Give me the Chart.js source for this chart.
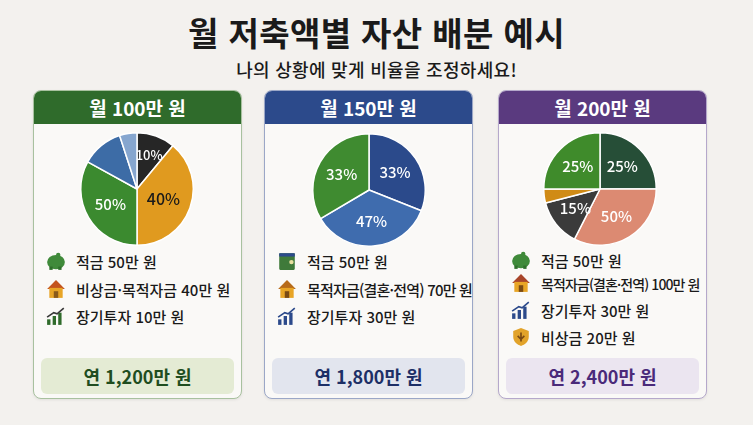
<!DOCTYPE html>
<html lang="ko">
<head>
<meta charset="utf-8">
<script src="https://cdn.jsdelivr.net/npm/chart.js@4.4.1/dist/chart.umd.min.js"></script>
<style>
  html, body { margin: 0; padding: 0; }
  body {
    width: 753px; height: 425px; overflow: hidden; position: relative;
    background: #f3f1ee;
    font-family: "Noto Sans CJK KR", "Noto Sans", sans-serif;
    color: #1a1a1a;
  }
  .title {
    position: absolute; left: 0; width: 753px; top: 12px; text-align: center;
    font-size: 33px; font-weight: 700; line-height: 40px; letter-spacing: 0.4px;
  }
  .subtitle {
    position: absolute; left: 0; width: 753px; top: 57px; text-align: center;
    font-size: 18px; font-weight: 500; line-height: 24px; letter-spacing: 0.3px;
  }
  .card {
    position: absolute; top: 90px; height: 309px; width: 209px;
    background: #faf9f7; border: 1.5px solid; border-radius: 8px;
    box-sizing: border-box; overflow: hidden;
    box-shadow: 0 1px 3px rgba(0,0,0,0.08);
  }
  .card .head {
    height: 33px; line-height: 33px; text-align: center; color: #fff;
    font-size: 19px; font-weight: 700;
  }
  .card canvas { position: absolute; }
  .row {
    position: absolute; left: 11px; height: 22px; line-height: 22px;
    font-size: 15px; font-weight: 500; white-space: nowrap;
  }
  .row svg { position: absolute; left: 1px; top: 0px; }
  .row span { position: absolute; left: 31px; }
  .foot {
    position: absolute; left: 7px; right: 7px; top: 267px; height: 36px;
    border-radius: 6px; text-align: center; line-height: 36px;
    font-size: 18px; font-weight: 700;
  }
</style>
</head>
<body>
<div class="title">월 저축액별 자산 배분 예시</div>
<div class="subtitle">나의 상황에 맞게 비율을 조정하세요!</div>

<div class="card" id="card1" style="left:33px; border-color:#a8c19f;">
  <div class="head" style="background:#2f6b2b;">월 100만 원</div>
  <canvas id="pie1" width="116" height="116" style="left:45px; top:40px;"></canvas>
  <div class="row" style="top:160px;">
    <svg width="20" height="20" viewBox="0 0 18 18"><ellipse cx="9" cy="10" rx="8" ry="6.5" fill="#3f8a3a"/><circle cx="11" cy="3.5" r="2" fill="#3f8a3a"/><rect x="3" y="14" width="3" height="3" fill="#2f6f2c"/><rect x="11" y="14" width="3" height="3" fill="#2f6f2c"/></svg>
    <span>적금 50만 원</span>
  </div>
  <div class="row" style="top:188px;">
    <svg width="20" height="20" viewBox="0 0 18 18"><path d="M1 9 L9 1 L17 9 Z" fill="#c4541e"/><rect x="3" y="8" width="12" height="9" fill="#e8a526"/><rect x="7" y="11" width="4" height="6" fill="#8a5a1a"/></svg>
    <span>비상금·목적자금 40만 원</span>
  </div>
  <div class="row" style="top:215px;">
    <svg width="20" height="20" viewBox="0 0 18 18"><rect x="1" y="12" width="3" height="5" fill="#2f6b2b"/><rect x="6" y="9" width="3" height="8" fill="#2f6b2b"/><rect x="11" y="6" width="3" height="11" fill="#2f6b2b"/><path d="M1 10 L7 6 L10 7 L16 2" stroke="#3a3a3a" stroke-width="1.5" fill="none"/></svg>
    <span>장기투자 10만 원</span>
  </div>
  <div class="foot" style="background:#e4ebd4; color:#1f4d1f;">연 1,200만 원</div>
</div>

<div class="card" id="card2" style="left:264px; border-color:#9ba7c7;">
  <div class="head" style="background:#2c4a8b;">월 150만 원</div>
  <canvas id="pie2" width="116" height="116" style="left:46px; top:41px;"></canvas>
  <div class="row" style="top:160px;">
    <svg width="20" height="20" viewBox="0 0 18 18"><rect x="2" y="2" width="14" height="15" rx="1" fill="#3f7a3a"/><rect x="2" y="2" width="14" height="3" fill="#2c4a8b"/><circle cx="13" cy="10" r="2" fill="#e8e0a0"/></svg>
    <span>적금 50만 원</span>
  </div>
  <div class="row" style="top:188px;">
    <svg width="20" height="20" viewBox="0 0 18 18"><path d="M1 9 L9 1 L17 9 Z" fill="#b76b1a"/><rect x="3" y="8" width="12" height="9" fill="#e8a526"/><rect x="7" y="11" width="4" height="6" fill="#7a4a14"/></svg>
    <span style="letter-spacing:-0.8px;">목적자금(결혼·전역) 70만 원</span>
  </div>
  <div class="row" style="top:215px;">
    <svg width="20" height="20" viewBox="0 0 18 18"><rect x="1" y="12" width="3" height="5" fill="#2c4a8b"/><rect x="6" y="9" width="3" height="8" fill="#2c4a8b"/><rect x="11" y="6" width="3" height="11" fill="#2c4a8b"/><path d="M1 10 L7 6 L10 7 L16 2" stroke="#2c4a8b" stroke-width="1.5" fill="none"/></svg>
    <span>장기투자 30만 원</span>
  </div>
  <div class="foot" style="background:#e2e5ee; color:#1d2f66;">연 1,800만 원</div>
</div>

<div class="card" id="card3" style="left:498px; border-color:#b5a8cb;">
  <div class="head" style="background:#5a3a7f;">월 200만 원</div>
  <canvas id="pie3" width="118" height="116" style="left:42px; top:40px;"></canvas>
  <div class="row" style="top:159px;">
    <svg width="20" height="20" viewBox="0 0 18 18"><ellipse cx="9" cy="10" rx="8" ry="6.5" fill="#3f8a3a"/><circle cx="11" cy="3.5" r="2" fill="#3f8a3a"/><rect x="3" y="14" width="3" height="3" fill="#2f6f2c"/><rect x="11" y="14" width="3" height="3" fill="#2f6f2c"/></svg>
    <span>적금 50만 원</span>
  </div>
  <div class="row" style="top:182px;">
    <svg width="20" height="20" viewBox="0 0 18 18"><path d="M1 9 L9 1 L17 9 Z" fill="#a8452a"/><rect x="3" y="8" width="12" height="9" fill="#e8a526"/><rect x="7" y="11" width="4" height="6" fill="#7a4a14"/></svg>
    <span style="font-size:14px; letter-spacing:-0.9px;">목적자금(결혼·전역) 100만 원</span>
  </div>
  <div class="row" style="top:209px;">
    <svg width="20" height="20" viewBox="0 0 18 18"><rect x="1" y="12" width="3" height="5" fill="#2c4a8b"/><rect x="6" y="9" width="3" height="8" fill="#2c4a8b"/><rect x="11" y="6" width="3" height="11" fill="#2c4a8b"/><path d="M1 10 L7 6 L10 7 L16 2" stroke="#2c4a8b" stroke-width="1.5" fill="none"/></svg>
    <span>장기투자 30만 원</span>
  </div>
  <div class="row" style="top:236px;">
    <svg width="20" height="20" viewBox="0 0 18 18"><path d="M9 1 L16 3.5 L16 9 C16 13 12.5 16 9 17 C5.5 16 2 13 2 9 L2 3.5 Z" fill="#e2a32a"/><path d="M9 5 L9 13 M6 8 L9 11 L12 8" stroke="#7a4a14" stroke-width="1.5" fill="none"/></svg>
    <span>비상금 20만 원</span>
  </div>
  <div class="foot" style="background:#ebe5f0; color:#4a2a7a;">연 2,400만 원</div>
</div>

<script>
// 슬라이스 크기는 그림에 그려진 각도대로, 글자는 그림에 적힌 대로
const pie1Slices = ['장기투자', '비상금·목적자금', '적금', '기타', '기타2'];
const pie1Values = [11, 39, 33, 12, 5];
const pie1Text = ['10%', '40%', '50%', '', ''];
const pie1Colors = ['#262626', '#e09a1f', '#3b8a2f', '#3d6ca6', '#86a6cf'];

const pie2Slices = ['장기투자', '목적자금', '적금'];
const pie2Values = [31, 35.5, 33.5];
const pie2Text = ['33%', '47%', '33%'];
const pie2Colors = ['#2b4a8b', '#3f6cae', '#3f8b30'];

const pie3Slices = ['장기투자', '목적자금', '비상금', '기타', '적금'];
const pie3Values = [25, 32.5, 13.5, 4, 25];
const pie3Text = ['25%', '50%', '15%', '', '25%'];
const pie3Colors = ['#264e37', '#dc8a72', '#3b3b3b', '#d08b16', '#3f8b2b'];

// 조각 위에 퍼센트 글자를 찍는 플러그인
const sliceText = {
    id: 'sliceText',
    afterDatasetsDraw(chart, args, opts) {
        const ctx = chart.ctx;
        const meta = chart.getDatasetMeta(0);
        meta.data.forEach((arc, i) => {
            const txt = opts.texts[i];
            if (!txt) return;
            const mid = (arc.startAngle + arc.endAngle) / 2;
            const r = arc.outerRadius * (opts.dist ? opts.dist[i] : 0.56);
            const x = arc.x + Math.cos(mid) * r;
            const y = arc.y + Math.sin(mid) * r;
            ctx.save();
            ctx.font = '500 ' + (opts.sizes ? opts.sizes[i] : 15) + 'px "Noto Sans CJK KR", "Noto Sans", sans-serif';
            ctx.fillStyle = opts.textColors[i] || '#fff';
            ctx.textAlign = 'center';
            ctx.textBaseline = 'middle';
            ctx.fillText(txt, x, y);
            ctx.restore();
        });
    }
};

function makePie(id, labels, values, colors, texts, style) {
    const ctx = document.getElementById(id).getContext('2d');
    return new Chart(ctx, {
        type: 'pie',
        data: {
            labels: labels,
            datasets: [{
                data: values,
                backgroundColor: colors,
                borderColor: '#ffffff',
                borderWidth: 1.5
            }]
        },
        options: {
            responsive: false,
            animation: false,
            layout: { padding: 1 },
            plugins: {
                legend: { display: false },
                tooltip: { enabled: false },
                sliceText: Object.assign({ texts: texts }, style)
            }
        },
        plugins: [sliceText]
    });
}

makePie('pie1', pie1Slices, pie1Values, pie1Colors, pie1Text, {
    textColors: ['#fff', '#1a1a1a', '#fff'],
    sizes: [13, 16, 15],
    dist: [0.64, 0.5, 0.55]
});
makePie('pie2', pie2Slices, pie2Values, pie2Colors, pie2Text, {
    textColors: ['#fff', '#fff', '#fff']
});
makePie('pie3', pie3Slices, pie3Values, pie3Colors, pie3Text, {
    textColors: ['#fff', '#fff', '#fff', '#fff', '#fff']
});
</script>
</body>
</html>
